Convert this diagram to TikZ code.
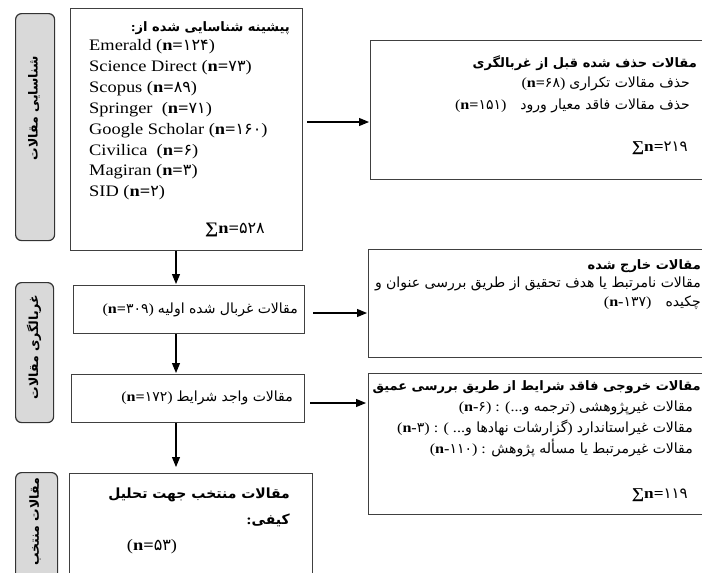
\documentclass[tikz,border=0pt]{standalone}
\usepackage{fontspec}
\setmainfont[FakeStretch=1.15]{Liberation Serif}
\newfontfamily\fa[Script=Arabic]{DejaVu Sans}
\TeXXeTstate=1
\usetikzlibrary{arrows.meta}
\newcommand\RL[1]{{\fa\beginR #1\endR}}
\newcommand\nv[1]{(\textbf{n=}{\fa #1})}
\newcommand\nd[1]{(\textbf{n-}{\fa #1})}
\newcommand\sm[1]{\textbf{∑n=}{\fa #1}}
\begin{document}
\begin{tikzpicture}[x=1pt,y=-1pt,
  box/.style={draw=black!75, line width=1.3pt, inner sep=0pt, anchor=north west},
  side/.style={draw=black!80, fill=black!15, rounded corners=6pt, line width=1.2pt, inner sep=0pt, anchor=north west},
  arr/.style={-{Triangle[length=10pt,width=8pt]}, line width=1.1pt},
  lat/.style={inner sep=0pt, anchor=west, font=\fontsize{16}{18}\selectfont},
  fr/.style={inner sep=0pt, anchor=east, font=\fontsize{14}{16}\selectfont},
  frb/.style={inner sep=0pt, anchor=east, font=\fontsize{13}{15}\selectfont\bfseries},
  sidetxt/.style={inner sep=0pt, rotate=90, font=\fontsize{12.5}{14}\selectfont\bfseries}]
\clip (0,0) rectangle (702,573);
% boxes
\node[box, minimum width=232pt, minimum height=242pt] (b1) at (70,8) {};
\node[box, minimum width=345pt, minimum height=139pt] (b2) at (370,40) {};
\node[box, minimum width=231pt, minimum height=48pt] (b3) at (73,285) {};
\node[box, minimum width=233pt, minimum height=48pt] (b4) at (71,374) {};
\node[box, minimum width=345pt, minimum height=108pt] (b5) at (368,249) {};
\node[box, minimum width=345pt, minimum height=141pt] (b6) at (368,373) {};
\node[box, minimum width=243pt, minimum height=120pt] (b7) at (69,473) {};
% side labels
\node[side, minimum width=39pt, minimum height=227pt] (g1) at (15,13) {};
\node[side, minimum width=38pt, minimum height=140pt] (g2) at (15,282) {};
\node[side, minimum width=42pt, minimum height=120pt] (g3) at (15,472) {};
\node[sidetxt] (tg1) at (34,108) {\RL{شناسایی مقالات}};
\node[sidetxt] (tg2) at (34,347) {\RL{غربالگری مقالات}};
\node[sidetxt] (tg3) at (35,522) {\RL{مقالات منتخب}};
% box 1 text
\node[frb] (t1a) at (290,28) {:\RL{پیشینه شناسایی شده از}};
\node[lat] (t1b) at (89,47) {Emerald \nv{۱۲۴}};
\node[lat] (t1c) at (89,68) {Science Direct \nv{۷۳}};
\node[lat] (t1d) at (89,89) {Scopus \nv{۸۹}};
\node[lat] (t1e) at (89,110) {Springer\ \ \nv{۷۱}};
\node[lat] (t1f) at (89,131) {Google Scholar \nv{۱۶۰}};
\node[lat] (t1g) at (89,152) {Civilica\ \ \nv{۶}};
\node[lat] (t1h) at (89,172) {Magiran \nv{۳}};
\node[lat] (t1i) at (89,193) {SID \nv{۲}};
\node[lat] (t1j) at (205,230) {\sm{۵۲۸}};
% box 2 text
\node[frb] (t2a) at (697,63) {\RL{مقالات حذف شده قبل از غربالگری}};
\node[fr] (t2b) at (690,84) {\nv{۶۸} \RL{حذف مقالات تکراری}};
\node[fr] (t2c) at (690,106) {\nv{۱۵۱}\quad\RL{حذف مقالات فاقد معیار ورود}};
\node[fr, font=\fontsize{15}{17}\selectfont] (t2d) at (688,148) {\sm{۲۱۹}};
% box 3, 4
\node[fr] (t3) at (298,310) {\nv{۳۰۹} \RL{مقالات غربال شده اولیه}};
\node[fr] (t4) at (293,398) {\nv{۱۷۲} \RL{مقالات واجد شرایط}};
% box 5
\node[frb] (t5a) at (701,266) {\RL{مقالات خارج شده}};
\node[fr] (t5b) at (701,284) {\RL{مقالات نامرتبط یا هدف تحقیق از طریق بررسی عنوان و}};
\node[fr] (t5c) at (701,303) {\nd{۱۳۷}\quad\RL{چکیده}};
% box 6
\node[frb] (t6a) at (701,387) {\RL{مقالات خروجی فاقد شرایط از طریق بررسی عمیق}};
\node[fr] (t6b) at (693,408) {\nd{۶} : (...\RL{ترجمه و}) \RL{مقالات غیرپژوهشی}};
\node[fr] (t6c) at (693,428) {\nd{۳} : ( ...\RL{گزارشات نهادها و}) \RL{مقالات غیراستاندارد}};
\node[fr] (t6d) at (693,448) {\nd{۱۱۰} : \RL{مقالات غیرمرتبط یا مسأله پژوهش}};
\node[fr, font=\fontsize{15}{17}\selectfont] (t6e) at (688,495) {\sm{۱۱۹}};
% box 7
\node[frb, font=\fontsize{14}{16}\selectfont\bfseries] (t7a) at (290,495) {\RL{مقالات منتخب جهت تحلیل}};
\node[frb, font=\fontsize{14}{16}\selectfont\bfseries] (t7b) at (290,520) {:\RL{کیفی}};
\node[lat, anchor=center] (t7c) at (152,547) {\nv{۵۳}};
% arrows
\draw[arr, shorten <=4pt, shorten >=1pt] (b1.east |- 0,122) -- (b2.west |- 0,122);
\draw[arr, shorten <=8pt, shorten >=1pt] (b3.east |- 0,313) -- (b5.west |- 0,313);
\draw[arr, shorten <=5pt, shorten >=2pt] (b4.east |- 0,403) -- (b6.west |- 0,403);
\draw[arr, shorten >=1pt] (b1.south -| 176,0) -- (b3.north -| 176,0);
\draw[arr, shorten >=1pt] (b3.south -| 176,0) -- (b4.north -| 176,0);
\draw[arr, shorten >=6pt] (b4.south -| 176,0) -- (b7.north -| 176,0);
\end{tikzpicture}
\end{document}
